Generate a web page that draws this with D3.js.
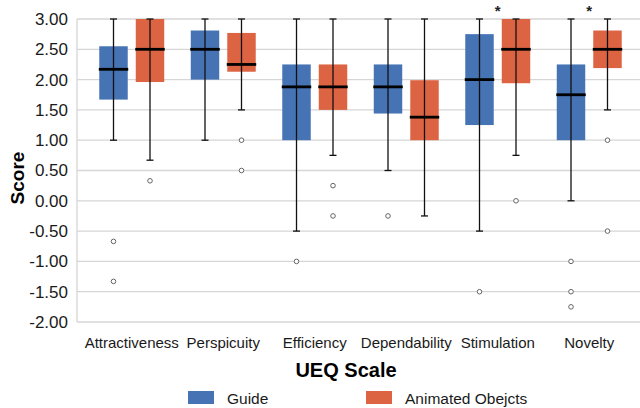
<!DOCTYPE html>
<html>
<head>
<meta charset="utf-8">
<script src="https://cdn.jsdelivr.net/npm/d3@7"></script>
<style>
  body { margin: 0; background: #fff; }
  svg { font-family: "Liberation Sans", Arial, sans-serif; }
</style>
</head>
<body>
<svg id="chart" width="640" height="408"></svg>
<script>
const categories = ["Attractiveness", "Perspicuity", "Efficiency", "Dependability", "Stimulation", "Novelty"]
const groups = ["Guide", "Animated Obejcts"]
const yTicks = [-2, -1.5, -1, -0.5, 0, 0.5, 1, 1.5, 2, 2.5, 3]

// Guide
const guideLow = [1.00, 1.00, -0.50, 0.50, -0.50, 0.00]
const guideQ1 = [1.67, 2.00, 1.00, 1.44, 1.25, 1.00]
const guideMedian = [2.17, 2.50, 1.88, 1.88, 2.00, 1.75]
const guideQ3 = [2.55, 2.81, 2.25, 2.25, 2.75, 2.25]
const guideHigh = [3.00, 3.00, 3.00, 3.00, 3.00, 3.00]
const guideOutliers = [[-0.67, -1.33], [], [-1.00], [-0.25], [-1.50], [-1.00, -1.50, -1.75]]

// Animated Obejcts
const animLow = [0.67, 1.50, 0.75, -0.25, 0.75, 1.50]
const animQ1 = [1.96, 2.13, 1.50, 1.00, 1.94, 2.19]
const animMedian = [2.50, 2.25, 1.88, 1.38, 2.50, 2.50]
const animQ3 = [3.00, 2.77, 2.25, 1.99, 3.00, 2.81]
const animHigh = [3.00, 3.00, 3.00, 3.00, 3.00, 3.00]
const animOutliers = [[0.33], [1.00, 0.50], [0.25, -0.25], [], [0.00], [1.00, -0.50]]

const significant = [false, false, false, false, true, true]

const colors = ["#4673b3", "#dd6442"]

const plot = {left: 77, right: 640, top: 19, bottom: 322}

const boxes = []
categories.forEach((c, i) => {
  boxes.push({cat: c, group: groups[0], low: guideLow[i], q1: guideQ1[i], med: guideMedian[i], q3: guideQ3[i], high: guideHigh[i], out: guideOutliers[i]})
  boxes.push({cat: c, group: groups[1], low: animLow[i], q1: animQ1[i], med: animMedian[i], q3: animQ3[i], high: animHigh[i], out: animOutliers[i]})
})

const svg = d3.select("#chart")

const x0 = d3.scaleBand()
  .domain(categories)
  .range([86, 635])
  .paddingInner(0.29)
  .paddingOuter(0.145)

const x1 = d3.scaleBand()
  .domain(groups)
  .range([0, x0.bandwidth()])
  .paddingInner(0.22)

const y = d3.scaleLinear()
  .domain([-2, 3])
  .range([plot.bottom, plot.top])

const color = d3.scaleOrdinal().domain(groups).range(colors)

// grid
svg.append("g")
  .selectAll("line")
  .data(yTicks)
  .join("line")
    .attr("x1", plot.left)
    .attr("x2", plot.right)
    .attr("y1", d => y(d))
    .attr("y2", d => y(d))
    .attr("stroke", "#d6d6d6")
    .attr("stroke-width", 1.3)

svg.append("line")
  .attr("x1", plot.left).attr("x2", plot.left)
  .attr("y1", plot.top).attr("y2", plot.bottom)
  .attr("stroke", "#d6d6d6").attr("stroke-width", 1.3)

// y axis labels
const yAxis = g => g
  .attr("transform", `translate(${plot.left - 6},0)`)
  .call(d3.axisLeft(y).tickValues(yTicks).tickFormat(d3.format(".2f")).tickSize(0))
  .call(g => g.select(".domain").remove())
  .call(g => g.selectAll("text")
    .attr("font-size", 17)
    .attr("font-family", "Liberation Sans, Arial, sans-serif")
    .attr("fill", "#1a1a1a")
    .text(d => d3.format(".2f")(d).replace("−", "-")))

svg.append("g").call(yAxis)

// x axis labels
svg.append("g")
  .attr("transform", `translate(0,${plot.bottom})`)
  .call(d3.axisBottom(x0).tickSize(0).tickPadding(15))
  .call(g => g.select(".domain").remove())
  .call(g => g.selectAll("text")
    .attr("font-size", 15)
    .attr("font-family", "Liberation Sans, Arial, sans-serif")
    .attr("fill", "#1a1a1a"))

// boxes
const bx = d => x0(d.cat) + x1(d.group)
const bw = x1.bandwidth()

const box = svg.append("g")
  .selectAll("g")
  .data(boxes)
  .join("g")

box.append("rect")
  .attr("x", d => bx(d))
  .attr("y", d => y(d.q3))
  .attr("width", bw)
  .attr("height", d => y(d.q1) - y(d.q3))
  .attr("fill", d => color(d.group))

box.append("line")
  .attr("x1", d => bx(d) + bw / 2)
  .attr("x2", d => bx(d) + bw / 2)
  .attr("y1", d => y(d.low))
  .attr("y2", d => y(d.high))
  .attr("stroke", "#111")
  .attr("stroke-width", 1.3)

box.selectAll("line.cap")
  .data(d => [d.low, d.high].map(v => ({v, d})))
  .join("line")
    .attr("class", "cap")
    .attr("x1", e => bx(e.d) + bw / 2 - 3.5)
    .attr("x2", e => bx(e.d) + bw / 2 + 3.5)
    .attr("y1", e => y(e.v))
    .attr("y2", e => y(e.v))
    .attr("stroke", "#111")
    .attr("stroke-width", 1.3)

box.append("line")
  .attr("x1", d => bx(d) - 0.5)
  .attr("x2", d => bx(d) + bw + 0.5)
  .attr("y1", d => y(d.med))
  .attr("y2", d => y(d.med))
  .attr("stroke", "#000")
  .attr("stroke-width", 2.8)

box.selectAll("circle")
  .data(d => d.out.map(v => ({v, d})))
  .join("circle")
    .attr("cx", e => bx(e.d) + bw / 2)
    .attr("cy", e => y(e.v))
    .attr("r", 2.3)
    .attr("fill", "#fff")
    .attr("stroke", "#666")
    .attr("stroke-width", 1)

// significance markers
svg.append("g")
  .selectAll("text")
  .data(categories.filter((c, i) => significant[i]))
  .join("text")
    .attr("x", d => x0(d) + x0.bandwidth() / 2)
    .attr("y", 16)
    .attr("text-anchor", "middle")
    .attr("font-size", 15)
    .attr("font-weight", "bold")
    .attr("fill", "#222")
    .text("*")

// axis titles
svg.append("text")
  .attr("transform", "translate(24,178) rotate(-90)")
  .attr("text-anchor", "middle")
  .attr("font-size", 19)
  .attr("font-weight", "bold")
  .attr("fill", "#000")
  .text("Score")

svg.append("text")
  .attr("x", 346)
  .attr("y", 377)
  .attr("text-anchor", "middle")
  .attr("font-size", 20)
  .attr("font-weight", "bold")
  .attr("fill", "#000")
  .text("UEQ Scale")

// legend
const legendX = [188, 366]
const legend = svg.append("g")
  .selectAll("g")
  .data(groups)
  .join("g")
    .attr("transform", (d, i) => `translate(${legendX[i]},391)`)

legend.append("rect")
  .attr("width", 26)
  .attr("height", 13)
  .attr("fill", d => color(d))

legend.append("text")
  .attr("x", 39)
  .attr("y", 13)
  .attr("font-size", 15.5)
  .attr("fill", "#1a1a1a")
  .text(d => d)
</script>
</body>
</html>
